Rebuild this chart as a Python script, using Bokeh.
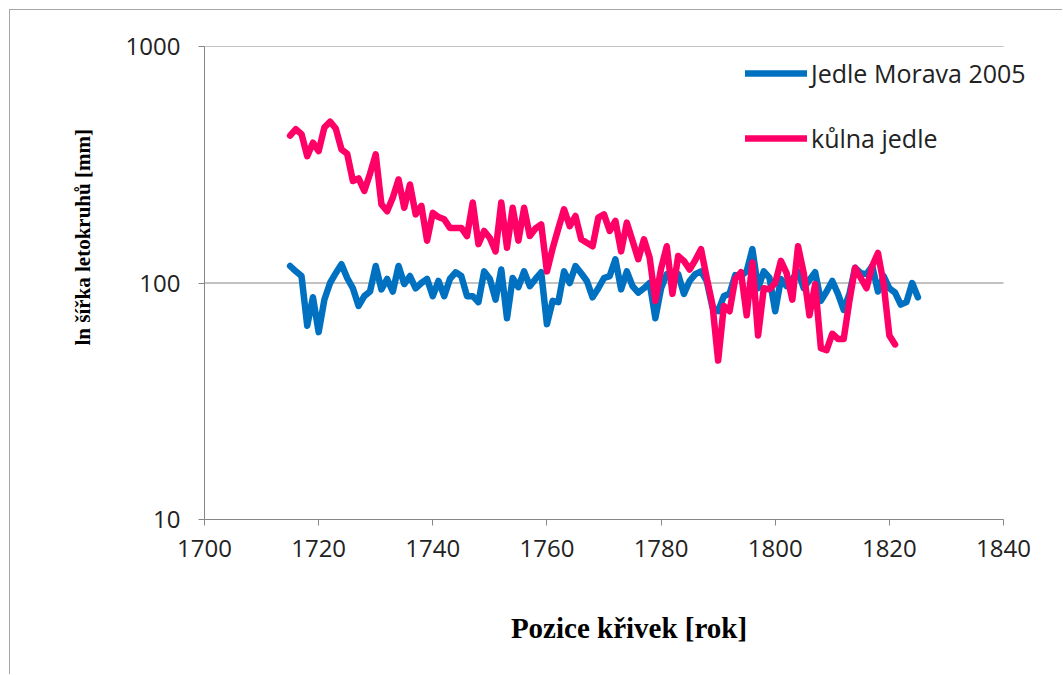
from bokeh.plotting import figure
from bokeh.models import Range1d, FixedTicker, PrintfTickFormatter, Legend, LegendItem, Title
from bokeh.embed import file_html
from bokeh.resources import INLINE

# ---- data ----
years_morava = list(range(1715, 1826))
jedle_morava_2005 = [
    118, 112, 107, 66, 87, 62, 85, 100, 110, 120,
    105, 95, 80, 88, 92, 118, 94, 104, 92, 118,
    99, 107, 95, 100, 104, 88, 102, 88, 104, 111,
    107, 88, 88, 83, 112, 104, 85, 114, 71, 105,
    96, 112, 97, 104, 111, 67, 84, 83, 112, 100,
    118, 110, 102, 87, 95, 105, 107, 126, 94, 112,
    97, 91, 95, 100, 71, 95, 109, 111, 109, 90,
    102, 109, 112, 102, 79, 76, 88, 90, 108, 107,
    112, 139, 95, 112, 105, 76, 104, 97, 104, 112,
    95, 103, 111, 84, 92, 102, 90, 77, 90, 116,
    110, 109, 118, 92, 107, 95, 91, 81, 83, 100,
    87,
]
years_kulna = list(range(1715, 1822))
kulna_jedle = [
    420, 447, 426, 344, 392, 361, 454, 481, 450, 367,
    352, 270, 277, 245, 290, 350, 215, 201, 230, 274,
    208, 261, 195, 212, 151, 198, 190, 186, 171, 171,
    171, 158, 219, 146, 166, 155, 136, 219, 141, 208,
    151, 208, 158, 170, 177, 112, 140, 170, 205, 174,
    192, 153, 148, 143, 189, 195, 166, 183, 136, 180,
    151, 126, 153, 128, 84, 115, 143, 90, 130, 124,
    114, 125, 139, 105, 81, 47, 80, 76, 104, 111,
    73, 122, 60, 95, 94, 100, 124, 110, 85, 143,
    110, 73, 99, 53, 52, 61, 58, 58, 84, 116,
    105, 95, 118, 134, 99, 60, 55,
]
series_names = ["Jedle Morava 2005", "kůlna jedle"]
x_ticks = [1700, 1720, 1740, 1760, 1780, 1800, 1820, 1840]
y_ticks = [10, 100, 1000]
x_title = "Pozice křivek [rok]"
y_title = "ln šířka letokruhů [mm]"

GREY = "#868686"

# frame is widened to the right (so the legend is not clipped); axis is bounded
px_per_year = 799 / 140
x_end = x_ticks[-1] + 50 / px_per_year

p = figure(width=1053, height=665, y_axis_type="log",
           x_range=Range1d(x_ticks[0], x_end), y_range=Range1d(y_ticks[0], y_ticks[-1]),
           output_backend="svg", toolbar_location=None,
           min_border_left=194, min_border_right=10,
           min_border_top=36, min_border_bottom=156)
p.styles = {"margin-left": "9px", "margin-top": "9px",
            "border-top": "1px solid #a6a6a6", "border-left": "1px solid #a6a6a6"}
p.outline_line_color = None
p.background_fill_color = "white"
p.border_fill_color = "white"

# horizontal gridlines limited to the axis extent
p.segment(x0=x_ticks[0], x1=x_ticks[-1], y0=y_ticks[1:], y1=y_ticks[1:],
          line_color=GREY, line_width=1)

r1 = p.line(years_morava, jedle_morava_2005, line_color="#0070C0", line_width=6.5,
            line_join="round", line_cap="round")
r2 = p.line(years_kulna, kulna_jedle, line_color="#FF0066", line_width=6.5,
            line_join="round", line_cap="round")

p.xgrid.grid_line_color = None
p.ygrid.grid_line_color = None

p.xaxis.ticker = FixedTicker(ticks=x_ticks)
p.xaxis.bounds = (x_ticks[0], x_ticks[-1])
p.yaxis.ticker = FixedTicker(ticks=y_ticks)
p.yaxis.formatter = PrintfTickFormatter(format="%d")
for ax in (p.xaxis, p.yaxis):
    ax.axis_line_color = GREY
    ax.major_tick_line_color = GREY
    ax.minor_tick_line_color = None
    ax.major_tick_in = 0
    ax.major_tick_out = 6
    ax.major_label_text_font = "Open Sans"
    ax.major_label_text_font_size = "24px"
    ax.major_label_text_color = "#222222"

p.xaxis.major_label_standoff = 14
p.yaxis.major_label_standoff = 18

p.xaxis.axis_label = x_title
p.xaxis.axis_label_standoff = 52
p.xaxis.axis_label_text_font = "Liberation Serif"
p.xaxis.axis_label_text_font_style = "bold"
p.xaxis.axis_label_text_font_size = "29px"
p.xaxis.axis_label_text_color = "black"

p.add_layout(Title(text=y_title, align="left", offset=174, standoff=56,
                   text_font="Liberation Serif", text_font_style="bold",
                   text_font_size="21px", text_color="black"), "left")

legend = Legend(items=[LegendItem(label=series_names[0], renderers=[r1]),
                       LegendItem(label=series_names[1], renderers=[r2])],
                location=(541, 364), orientation="vertical")
legend.label_text_font = "Open Sans"
legend.label_text_font_size = "25px"
legend.label_text_color = "#222222"
legend.glyph_width = 62
legend.glyph_height = 30
legend.label_height = 30
legend.label_standoff = 4
legend.spacing = 31
legend.padding = 25
legend.margin = 0
legend.border_line_color = None
legend.background_fill_color = "white"
legend.background_fill_alpha = 1.0
p.add_layout(legend, "center")

open("out.html", "w").write(file_html(p, INLINE))
